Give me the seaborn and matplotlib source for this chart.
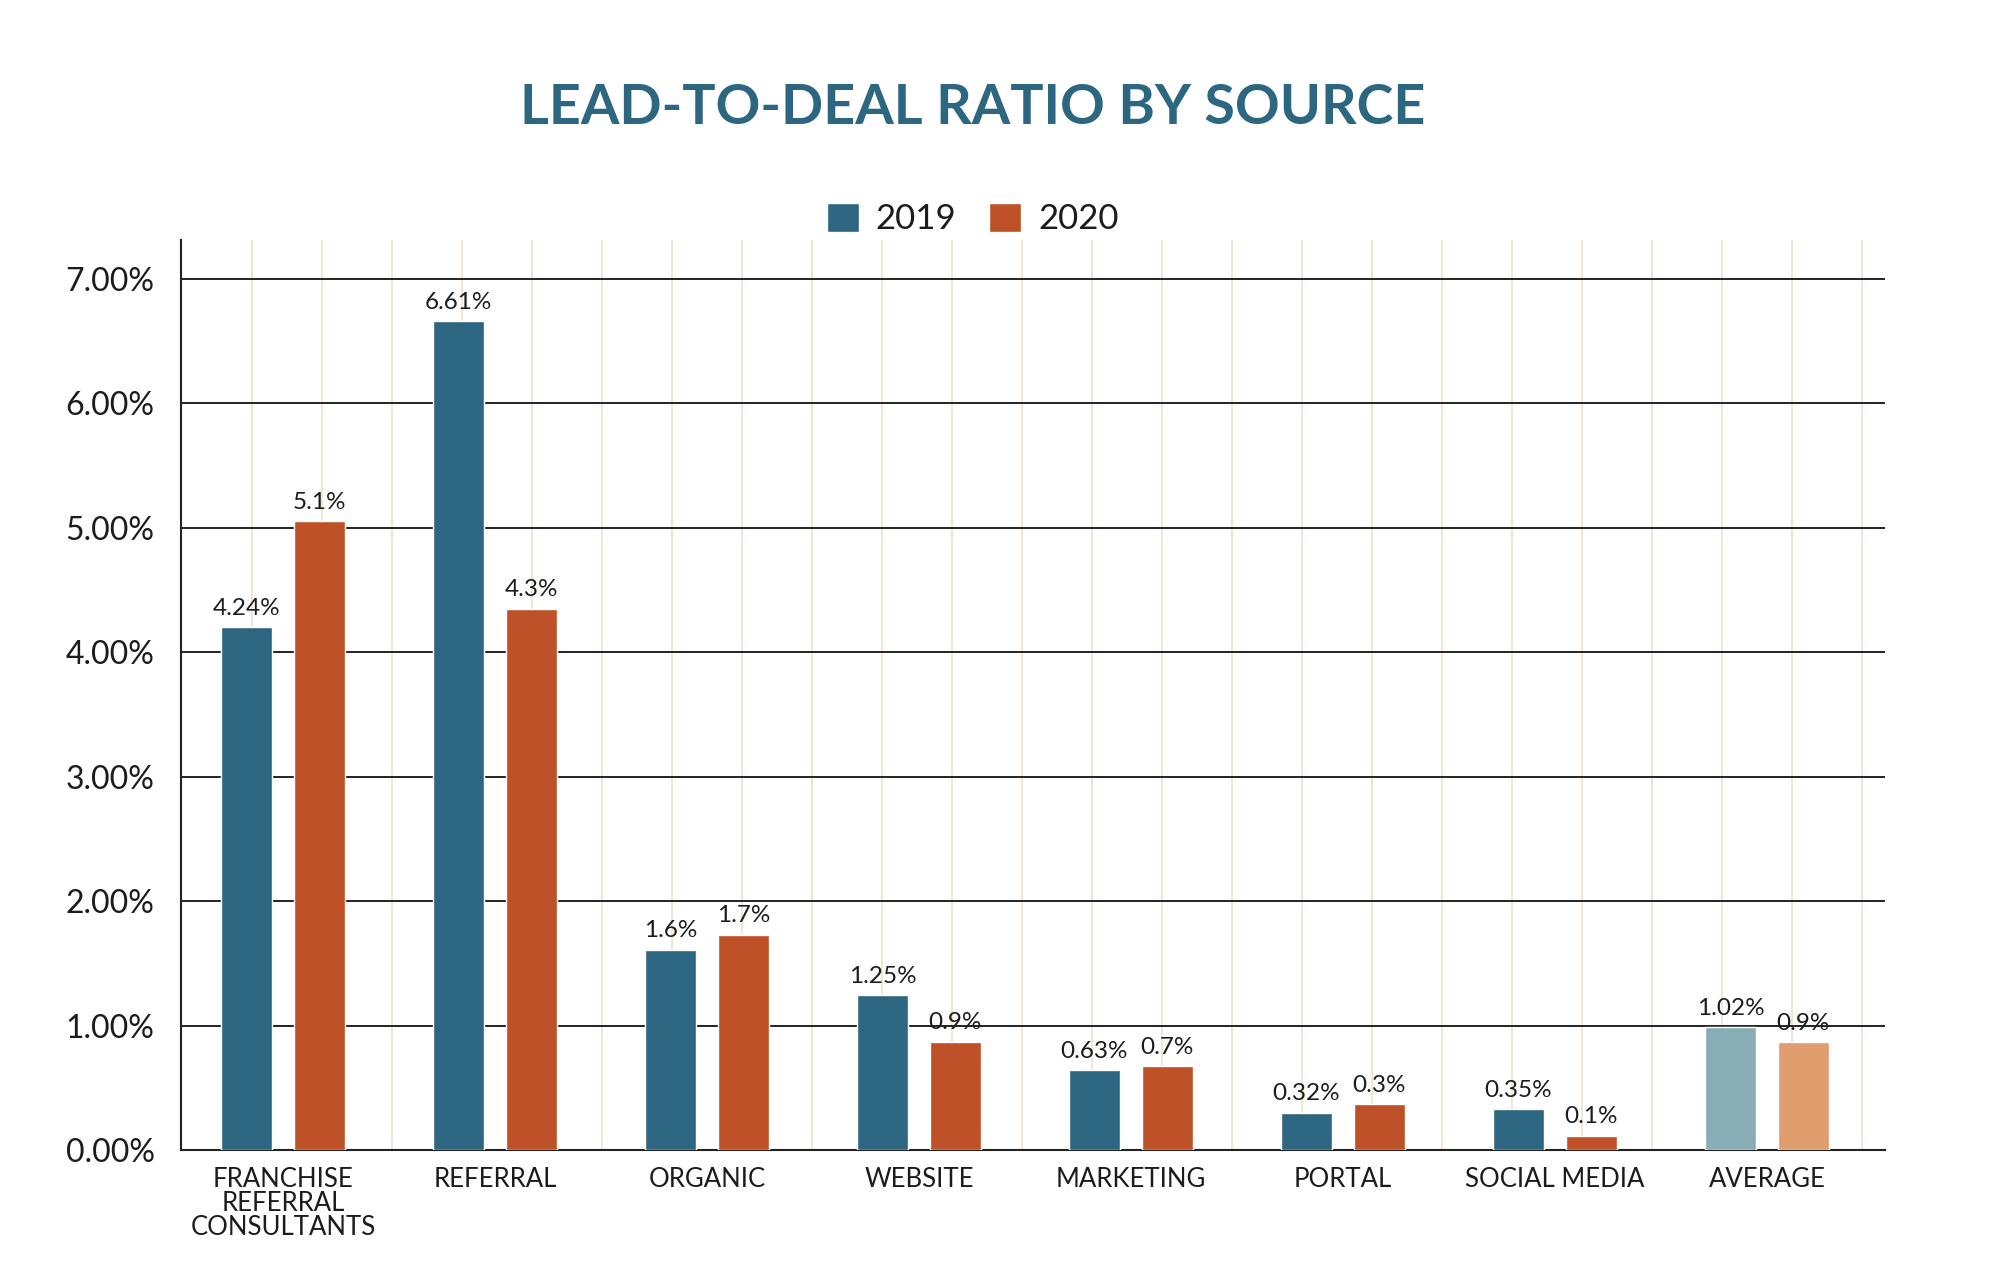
import numpy as np
import pandas as pd
import matplotlib
matplotlib.use("Agg")
import matplotlib.pyplot as plt
import seaborn as sns

# values
sources = ["FRANCHISE\nREFERRAL\nCONSULTANTS", "REFERRAL", "ORGANIC", "WEBSITE",
           "MARKETING", "PORTAL", "SOCIAL MEDIA", "AVERAGE"]
ratio_2019 = [4.20, 6.66, 1.61, 1.245, 0.644, 0.30, 0.329, 0.989]
ratio_2020 = [5.05, 4.35, 1.73, 0.872, 0.676, 0.37, 0.115, 0.869]
labels_2019 = ["4.24%", "6.61%", "1.6%", "1.25%", "0.63%", "0.32%", "0.35%", "1.02%"]
labels_2020 = ["5.1%", "4.3%", "1.7%", "0.9%", "0.7%", "0.3%", "0.1%", "0.9%"]
years = ["2019", "2020"]
y_ticks = [0, 1, 2, 3, 4, 5, 6, 7]

BLUE = "#2D6680"
ORANGE = "#BE5128"
BLUE_LIGHT = "#89ADB5"
ORANGE_LIGHT = "#E09E6E"
TEXT = "#1c1c1c"

df = pd.DataFrame({
    "source": sources * 2,
    "year": [years[0]] * len(sources) + [years[1]] * len(sources),
    "ratio": ratio_2019 + ratio_2020,
})

sns.set_style("white")
plt.rcParams["font.family"] = ["Lato", "DejaVu Sans"]

fig = plt.figure(figsize=(20.16, 12.62), dpi=100)
ax = fig.add_axes([0.0898, 0.0887, 0.935 - 0.0898, 0.8098 - 0.0887])

sns.barplot(data=df, x="source", y="ratio", hue="year", order=sources,
            hue_order=years, palette=[BLUE, ORANGE], width=0.688, gap=0.30,
            saturation=1, ax=ax, zorder=3)

# the average group uses lighter tints
ax.containers[0][-1].set_facecolor(BLUE_LIGHT)
ax.containers[1][-1].set_facecolor(ORANGE_LIGHT)

ax.bar_label(ax.containers[0], labels=labels_2019, padding=6, fontsize=17.5, color=TEXT)
ax.bar_label(ax.containers[1], labels=labels_2020, padding=6, fontsize=17.5, color=TEXT)

n = len(sources)
ax.set_xlim(-0.481, 7.557)
ax.set_ylim(0, 7.31)
ax.set_yticks(y_ticks)
ax.set_yticklabels([f"{v:.2f}%" for v in y_ticks], fontsize=23, color=TEXT)
ax.tick_params(axis="y", length=0, pad=19)
ax.tick_params(axis="x", length=0, pad=12, labelsize=18.5, labelcolor=TEXT)
for t in ax.get_xticklabels():
    t.set_linespacing(0.95)
    t.set_verticalalignment("top")

# light decorative vertical guides
guides = -0.1476 + 0.3302 * np.arange(3 * n)
ax.set_xticks(guides, minor=True)
ax.tick_params(axis="x", which="minor", length=0)
ax.grid(which="minor", axis="x", color="#EFE4CD", linewidth=1.3, zorder=0)
ax.grid(which="major", axis="y", color="#222222", linewidth=1.4, zorder=1)
ax.grid(which="major", axis="x", visible=False)
ax.set_axisbelow(True)

for side in ["top", "right"]:
    ax.spines[side].set_visible(False)
for side in ["left", "bottom"]:
    ax.spines[side].set_color("#222222")
    ax.spines[side].set_linewidth(1.5)

ax.set_xlabel("")
ax.set_ylabel("")

handles, labels = ax.get_legend_handles_labels()
ax.get_legend().remove()
fig.legend(handles, labels, loc="center", bbox_to_anchor=(0.4826, 1 - 219 / 1262),
           ncol=2, frameon=False, fontsize=25, handlelength=0.92, handleheight=0.95,
           handletextpad=0.5, columnspacing=0.95, labelcolor=TEXT)

fig.text(0.4826, 1 - 108 / 1262, "LEAD-TO-DEAL RATIO BY SOURCE", ha="center", va="center",
         fontsize=40, fontweight="bold", color=BLUE)

fig.savefig("out.png", dpi=100, facecolor="white")
